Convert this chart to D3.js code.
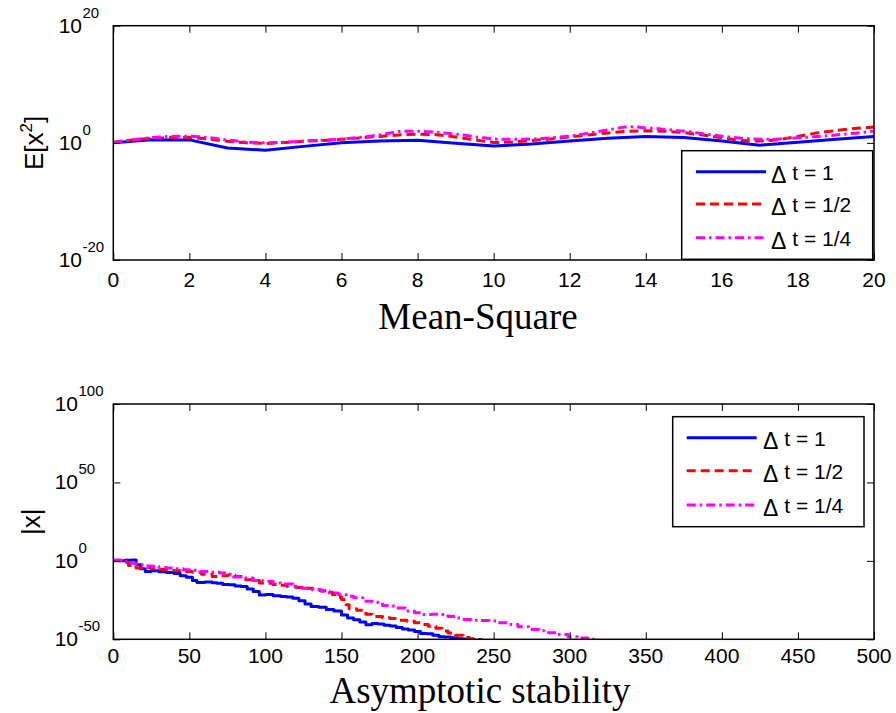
<!DOCTYPE html>
<html>
<head>
<meta charset="utf-8">
<script src="https://d3js.org/d3.v7.min.js"></script>
<style>
  html, body { margin: 0; padding: 0; background: #fff; }
  svg { display: block; }
  text { font-family: "Liberation Sans", Arial, sans-serif; fill: #000; }
</style>
</head>
<body>
<svg id="chart" width="896" height="713"></svg>
<script>
// ---------- Mean-square panel: E[x^2] for three step sizes ----------
const msStep1 = 1, msStep2 = 0.5, msStep4 = 0.25;
const msDt1 = [1, 3.5, 3.2, 0.13, 0.056, 0.25, 1, 2.0, 2.8, 0.89, 0.28,
               0.63, 2.0, 6.3, 12.6, 7.9, 2.0, 0.4, 1.26, 4.0, 12.6];
const msDt2 = [1.3, 3.2, 5.6, 7.9, 8.9, 4.5, 1.8, 1.0, 0.79, 1.1, 1.8,
               2.5, 4.0, 7.1, 12.6, 22, 32, 25, 10, 3.2, 1.1,
               1.4, 2.5, 4.5, 10, 22, 50, 89, 112, 100, 56,
               22, 7.1, 2.5, 2.0, 3.5, 12.6, 50, 126, 282, 501];
const msDt4 = [1.1, 2.0, 3.2, 5.0, 7.9, 10, 12.6, 14, 14, 11, 7.9, 5.0, 3.2, 2.0, 1.4, 1.1,
               1.0, 1.1, 1.3, 1.6, 2.0, 2.5, 2.8, 3.5, 4.5, 6.3, 8.9, 14, 22, 45, 89, 100,
               100, 79, 63, 45, 32, 20, 11, 7.1, 4.5, 4.0, 4.0, 4.0, 4.5, 5.6, 7.1, 10,
               14, 25, 45, 89, 158, 316, 562, 501, 355, 282, 200, 141, 100, 63, 35, 22,
               14, 8.9, 6.3, 5.0, 4.0, 4.0, 4.5, 5.6, 7.1, 8.9, 12.6, 16, 22, 32, 45, 63, 100];
const msXTicks = d3.range(0, 21, 2);
const msYTicks = [1e-20, 1, 1e20];
const msYExp = ["-20", "0", "20"];

// ---------- Asymptotic-stability panel: |x| along one path ----------
const asT1 = [0, 4, 8, 12, 15, 18, 21, 25, 30, 35, 40, 44, 48, 52, 55, 60, 65, 68, 72, 76, 80, 84, 88,
              92, 96, 100, 105, 110, 114, 118, 122, 126, 130, 135, 140, 145, 150, 154, 158, 162, 166,
              170, 174, 178, 182, 186, 190, 194, 198, 202, 206, 210, 214, 218, 222, 226, 230, 234, 238];
const asDt1 = [2, 1, 2.5, 4, 3.2e-3, 1e-5, 1.6e-7, 5e-7, 1e-7, 4e-8, 1e-8, 3.2e-10, 3.2e-11, 3.2e-13,
               1.6e-14, 3.2e-14, 1e-14, 6.3e-15, 1e-15, 5e-16, 1e-16, 4e-17, 1e-18, 3.2e-20, 2e-22,
               3.2e-22, 5e-23, 2e-23, 1e-23, 1.6e-24, 3.2e-26, 3.2e-28, 7.9e-30, 3.2e-30, 1e-31, 1e-32,
               3.2e-35, 3.2e-37, 3.2e-38, 1e-39, 1.6e-41, 1e-40, 5e-41, 1e-41, 3.2e-42, 3.2e-43,
               3.2e-44, 1e-44, 1e-45, 5e-47, 3.2e-47, 3.2e-48, 5e-49, 2.5e-49, 1e-49, 2.5e-50,
               1.6e-50, 5e-51, 1e-51];
const asT2 = [0, 5, 10, 15, 20, 25, 30, 35, 40, 45, 52, 58, 65, 70, 75, 80, 87, 92, 96, 100, 105, 110,
              114, 120, 125, 131, 136, 140, 144, 148, 150, 153, 155, 160, 166, 170, 177, 182, 188, 193,
              198, 203, 207, 212, 216, 220, 225, 230, 234, 238, 242];
const asDt2 = [1.3, 0.1, 1e-3, 2.5e-5, 6.3e-5, 1e-5, 3.2e-6, 7.9e-7, 5e-7, 1.6e-7, 6.3e-8, 3.2e-9,
               1.3e-10, 3.2e-10, 1e-9, 1e-10, 1e-12, 3.2e-13, 7.9e-15, 5e-15, 1e-15, 3.2e-16, 6.3e-17,
               1e-17, 3.2e-18, 4e-19, 1e-19, 1e-20, 3.2e-22, 1e-23, 2e-25, 1e-28, 3.2e-31, 3.2e-32,
               1e-34, 3.2e-36, 5e-37, 1.6e-37, 1.6e-38, 3.2e-39, 3.2e-40, 3.2e-41, 2.5e-42, 1e-43,
               2e-45, 1e-46, 3.2e-48, 1.6e-49, 2.5e-50, 7.9e-51, 1e-51];
const asT4 = [0, 5, 10, 15, 20, 25, 30, 35, 40, 46, 50, 57, 63, 70, 75, 79, 85, 92, 98, 105, 110, 118,
              124, 131, 137, 142, 148, 153, 158, 164, 170, 177, 184, 192, 198, 203, 209, 214, 220, 225,
              229, 235, 241, 247, 253, 260, 266, 273, 280, 286, 292, 299, 305, 312, 318];
const asDt4 = [4, 0.32, 3.2e-2, 3.2e-3, 6.3e-4, 3.2e-4, 6.3e-5, 2.5e-5, 1e-5, 2e-6, 1e-6, 1.6e-7,
               6.3e-8, 1.6e-8, 3.2e-9, 5e-11, 1e-11, 3.2e-13, 1e-13, 7.9e-15, 1.6e-15, 2e-17, 3.2e-18,
               4e-19, 5e-20, 3.2e-21, 3.2e-22, 2.5e-23, 3.2e-24, 2e-26, 4e-27, 3.2e-29, 1e-30, 1e-32,
               1e-33, 6.3e-35, 1e-34, 6.3e-35, 3.2e-36, 3.2e-37, 5e-38, 1.6e-38, 1e-38, 4e-39,
               3.2e-40, 3.2e-41, 1e-42, 2e-44, 3.2e-45, 1.6e-46, 1e-47, 5e-49, 6.3e-50, 1e-50, 1e-51];
const asXTicks = d3.range(0, 501, 50);
const asYTicks = [1e-50, 1, 1e50, 1e100];
const asYExp = ["-50", "0", "50", "100"];

const legendLabels = ["1", "1/2", "1/4"];
const seriesStyle = [
  { color: "#0000ff", dash: null },
  { color: "#ff0000", dash: "9,5" },
  { color: "#ff00ff", dash: "9,4,2.5,4" }
];

const svg = d3.select("#chart");

function drawPanel(p) {
  const x = d3.scaleLinear().domain(p.xDomain).range([p.left, p.right]);
  const y = d3.scaleLog().domain(p.yDomain).range([p.bottom, p.top]);
  const g = svg.append("g");

  const clipId = "clip-" + p.id;
  g.append("clipPath").attr("id", clipId)
    .append("rect").attr("x", p.left).attr("y", p.top)
    .attr("width", p.right - p.left).attr("height", p.bottom - p.top);

  // series
  const line = d3.line().curve(p.curve).x(d => x(d[0])).y(d => y(d[1]));
  p.series.forEach((s, i) => {
    const pts = s.t.map((tv, k) => [tv, s.v[k]]);
    g.append("path")
      .attr("clip-path", `url(#${clipId})`)
      .attr("d", line(pts))
      .attr("fill", "none")
      .attr("stroke", seriesStyle[i].color)
      .attr("stroke-width", 3)
      .attr("stroke-linejoin", "round")
      .attr("stroke-dasharray", seriesStyle[i].dash);
  });

  // inward ticks on all four sides
  const tick = 7;
  const axB = d3.axisBottom(x).tickValues(p.xTicks).tickSizeInner(-tick).tickSizeOuter(0).tickFormat("");
  const axT = d3.axisTop(x).tickValues(p.xTicks).tickSizeInner(-tick).tickSizeOuter(0).tickFormat("");
  const axL = d3.axisLeft(y).tickValues(p.yTicks).tickSizeInner(-tick).tickSizeOuter(0).tickFormat("");
  const axR = d3.axisRight(y).tickValues(p.yTicks).tickSizeInner(-tick).tickSizeOuter(0).tickFormat("");
  [[axB, `translate(0,${p.bottom})`], [axT, `translate(0,${p.top})`],
   [axL, `translate(${p.left},0)`], [axR, `translate(${p.right},0)`]].forEach(([ax, tr]) => {
    const a = g.append("g").attr("transform", tr).call(ax);
    a.select(".domain").remove();
    a.selectAll("line").attr("stroke", "#000").attr("stroke-width", 1);
  });

  // box
  g.append("rect").attr("x", p.left).attr("y", p.top)
    .attr("width", p.right - p.left).attr("height", p.bottom - p.top)
    .attr("fill", "none").attr("stroke", "#000").attr("stroke-width", 1.5);

  // x tick labels
  g.selectAll(".xl").data(p.xTicks).enter().append("text")
    .attr("x", d => x(d)).attr("y", p.bottom + p.xLabOff)
    .attr("text-anchor", "middle").attr("font-size", 21)
    .text(d => d);

  // y tick labels: 10 with a raised exponent
  p.yTicks.forEach((v, i) => {
    g.append("text").attr("x", p.baseEnd).attr("y", y(v) + 7)
      .attr("text-anchor", "end").attr("font-size", 21).text("10");
    g.append("text").attr("x", p.baseEnd + 0.5).attr("y", y(v) - 8)
      .attr("font-size", 15).text(p.yExp[i]);
  });

  // y axis label
  const yl = g.append("text")
    .attr("transform", `translate(${p.yLabelX},${(p.top + p.bottom) / 2}) rotate(-90)`)
    .attr("text-anchor", "middle").attr("font-size", 26);
  p.yLabel(yl);

  // x axis title
  g.append("text").attr("x", p.titleX).attr("y", p.titleY)
    .attr("text-anchor", "middle")
    .style("font-family", "'Liberation Serif', 'Times New Roman', serif")
    .attr("font-size", 37).text(p.title);

  // legend
  const L = p.legend;
  g.append("rect").attr("x", L.x).attr("y", L.y).attr("width", L.w).attr("height", L.h)
    .attr("fill", "#fff").attr("stroke", "#000").attr("stroke-width", 1.5);
  legendLabels.forEach((lab, i) => {
    const ly = L.rows[i];
    g.append("line").attr("x1", L.lx1).attr("x2", L.lx2).attr("y1", ly).attr("y2", ly)
      .attr("stroke", seriesStyle[i].color).attr("stroke-width", 3)
      .attr("stroke-dasharray", seriesStyle[i].dash);
    const t = g.append("text").attr("x", L.tx).attr("y", ly + 8).attr("font-size", 21);
    t.append("tspan").attr("font-size", 23).attr("dy", 3).text("\u0394");
    t.append("tspan").attr("dy", -3).text(" t = " + lab);
  });
}

drawPanel({
  id: "ms", left: 113.3, right: 874, top: 25.7, bottom: 260,
  xDomain: [0, 20], yDomain: [1e-20, 1e20],
  xTicks: msXTicks, yTicks: msYTicks, yExp: msYExp, baseEnd: 82, xLabOff: 27,
  curve: d3.curveLinear,
  series: [
    { t: d3.range(msDt1.length).map(k => k * msStep1), v: msDt1 },
    { t: d3.range(msDt2.length).map(k => k * msStep2), v: msDt2 },
    { t: d3.range(msDt4.length).map(k => k * msStep4), v: msDt4 }
  ],
  yLabelX: 43,
  yLabel: t => {
    t.append("tspan").text("E[x");
    t.append("tspan").attr("font-size", 17).attr("dy", -11).text("2");
    t.append("tspan").attr("dy", 11).text("]");
  },
  title: "Mean-Square", titleX: 478, titleY: 329,
  legend: { x: 681.7, y: 150.7, w: 191, h: 108.6, lx1: 696, lx2: 766,
            tx: 771, rows: [171.7, 204, 237.7] }
});

drawPanel({
  id: "as", left: 113.3, right: 874, top: 404, bottom: 639.3,
  xDomain: [0, 500], yDomain: [1e-50, 1e100],
  xTicks: asXTicks, yTicks: asYTicks, yExp: asYExp, baseEnd: 78, xLabOff: 24,
  curve: d3.curveStepAfter,
  series: [
    { t: asT1, v: asDt1 },
    { t: asT2, v: asDt2 },
    { t: asT4, v: asDt4 }
  ],
  yLabelX: 40,
  yLabel: t => t.text("|x|"),
  title: "Asymptotic stability", titleX: 480, titleY: 703,
  legend: { x: 672.7, y: 416.7, w: 191.3, h: 110, lx1: 686.7, lx2: 756.7,
            tx: 763, rows: [437.7, 470.7, 505] }
});
</script>
</body>
</html>
